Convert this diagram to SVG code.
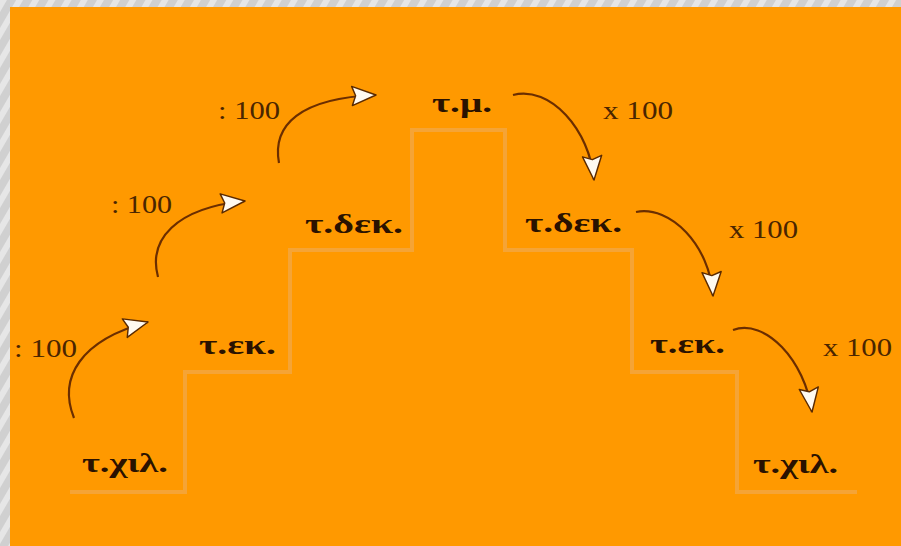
<svg xmlns="http://www.w3.org/2000/svg" width="901" height="546" viewBox="0 0 901 546">
  <defs>
    <pattern id="stripes" width="14" height="14" patternUnits="userSpaceOnUse" patternTransform="rotate(30)">
      <rect width="14" height="14" fill="#d0d0d0"/>
      <rect x="0" y="0" width="6" height="14" fill="#e6e6e6"/>
    </pattern>
    <marker id="head" markerUnits="userSpaceOnUse" markerWidth="30" markerHeight="24" viewBox="-1 -10 24 20" refX="20" refY="0" orient="auto">
      <path d="M0,-8 L20,0 L0,8 L3,0 Z" fill="#fffaf0" stroke="#5a2a00" stroke-width="1.2" stroke-linejoin="round"/>
    </marker>
  </defs>
  <style>
    .lbl { font-family: "Liberation Serif", "DejaVu Serif", serif; font-weight: bold; font-size: 28px; fill: #2a1200; }
    .num { font-family: "Liberation Serif", "DejaVu Serif", serif; font-size: 26px; fill: #4a2500; }
    .arc { fill: none; stroke: #6b2e00; stroke-width: 2.2; marker-end: url(#head); }
    .step { fill: none; stroke: #f2a848; stroke-width: 4; opacity: 0.75; }
  </style>
  <rect x="0" y="0" width="901" height="546" fill="url(#stripes)"/>
  <rect x="10" y="7" width="891" height="539" fill="#ff9900"/>

  <path class="step" d="M 70,492 H 185 V 372 H 290 V 250 H 412 V 130 H 505 V 250 H 632 V 372 H 737 V 492 H 857"/>

  <g id="node-tm"><text class="lbl" x="432" y="112" textLength="60" lengthAdjust="spacingAndGlyphs">τ.μ.</text></g>
  <g id="node-tdek-left"><text class="lbl" x="305" y="233" textLength="98" lengthAdjust="spacingAndGlyphs">τ.δεκ.</text></g>
  <g id="node-tdek-right"><text class="lbl" x="525" y="232" textLength="97" lengthAdjust="spacingAndGlyphs">τ.δεκ.</text></g>
  <g id="node-tek-left"><text class="lbl" x="199" y="354" textLength="77" lengthAdjust="spacingAndGlyphs">τ.εκ.</text></g>
  <g id="node-tek-right"><text class="lbl" x="650" y="353" textLength="75" lengthAdjust="spacingAndGlyphs">τ.εκ.</text></g>
  <g id="node-tchil-left"><text class="lbl" x="82" y="472" textLength="86" lengthAdjust="spacingAndGlyphs">τ.χιλ.</text></g>
  <g id="node-tchil-right"><text class="lbl" x="753" y="473" textLength="85" lengthAdjust="spacingAndGlyphs">τ.χιλ.</text></g>

  <g id="connectors">
    <path class="arc" d="M 74,418 C 58,378 80,340 148,322"/>
    <path class="arc" d="M 158,277 C 148,240 175,208 245,201"/>
    <path class="arc" d="M 279,163 C 272,125 300,98 376,95"/>
    <path class="arc" d="M 513,95 C 550,85 590,130 594,180"/>
    <path class="arc" d="M 636,212 C 670,205 710,245 713,296"/>
    <path class="arc" d="M 733,330 C 765,318 805,360 812,412"/>
    <text class="num" x="218" y="119" textLength="62" lengthAdjust="spacingAndGlyphs">: 100</text>
    <text class="num" x="111" y="213" textLength="61" lengthAdjust="spacingAndGlyphs">: 100</text>
    <text class="num" x="14" y="357" textLength="63" lengthAdjust="spacingAndGlyphs">: 100</text>
    <text class="num" x="603" y="119" textLength="70" lengthAdjust="spacingAndGlyphs">x 100</text>
    <text class="num" x="729" y="238" textLength="69" lengthAdjust="spacingAndGlyphs">x 100</text>
    <text class="num" x="823" y="356" textLength="69" lengthAdjust="spacingAndGlyphs">x 100</text>
  </g>
</svg>
